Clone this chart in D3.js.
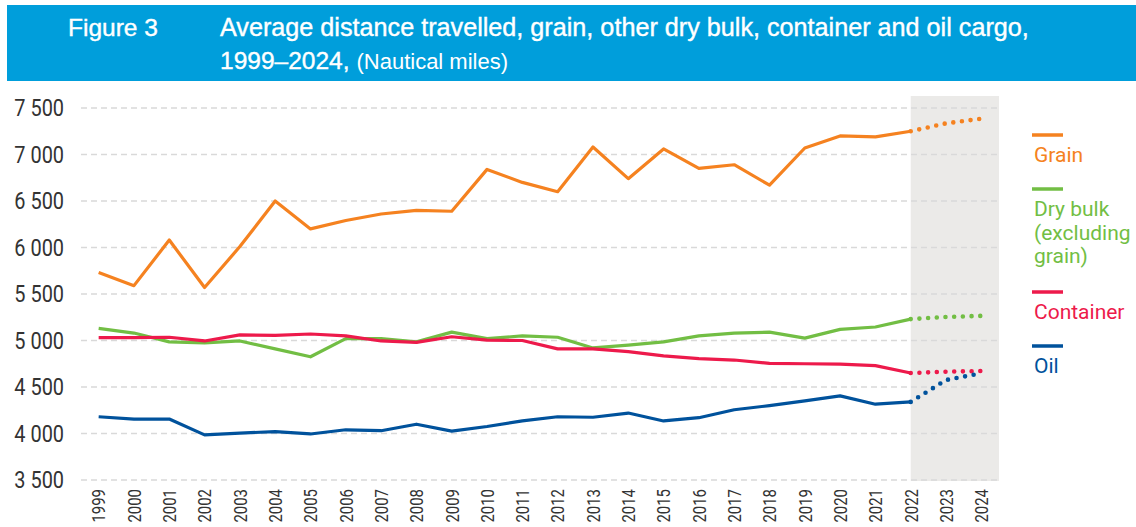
<!DOCTYPE html>
<html>
<head>
<meta charset="utf-8">
<script src="https://cdn.jsdelivr.net/npm/d3@7"></script>
<style>
  html, body { margin: 0; padding: 0; background: #fff; }
  svg { display: block; }
</style>
</head>
<body>
<svg id="chart" width="1136" height="527"></svg>
<script>
'use strict';

var years = ['1999','2000','2001','2002','2003','2004','2005','2006','2007','2008','2009','2010','2011',
             '2012','2013','2014','2015','2016','2017','2018','2019','2020','2021','2022','2023','2024'];
var grain = [5730,5590,6080,5570,6010,6500,6200,6290,6360,6400,6390,6840,6700,
             6600,7080,6740,7060,6850,6890,6670,7070,7200,7190,7250,7335,7385];
var dryBulk = [5130,5080,4985,4975,4995,4910,4825,5020,5020,4985,5090,5020,5050,
               5035,4920,4950,4985,5050,5080,5090,5025,5120,5145,5230,5253,5265];
var container = [5030,5030,5035,4995,5060,5055,5070,5050,4995,4980,5040,5005,5000,
                 4910,4910,4880,4835,4805,4790,4755,4750,4745,4730,4650,4665,4672];
var oil = [4180,4155,4155,3985,4005,4020,3995,4040,4030,4100,4025,4075,4135,
           4180,4175,4220,4135,4170,4255,4300,4350,4405,4315,4340,4575,4648];
var yTicks = [3500,4000,4500,5000,5500,6000,6500,7000,7500];
var forecastFrom = '2022';

var series = [
  {name: 'Grain', values: grain, color: '#F58220', label: ['Grain'], ly: 135},
  {name: 'Dry bulk', values: dryBulk, color: '#72BE44', label: ['Dry bulk', '(excluding', 'grain)'], ly: 189},
  {name: 'Container', values: container, color: '#ED1A4B', label: ['Container'], ly: 292},
  {name: 'Oil', values: oil, color: '#00529C', label: ['Oil'], ly: 346}
];

var svg = d3.select('#chart');

// header band
svg.append('rect')
  .attr('x', 7).attr('y', 5)
  .attr('width', 1129).attr('height', 76)
  .attr('fill', '#009EDB');

var headFont = '"Liberation Sans", Arial, sans-serif';
var head = svg.append('g')
  .attr('fill', '#fff')
  .attr('font-family', headFont);
head.append('text')
  .attr('x', 68).attr('y', 36)
  .attr('font-size', 24.5)
  .attr('stroke', '#fff').attr('stroke-width', 0.4)
  .text('Figure 3');
head.append('text')
  .attr('x', 220).attr('y', 36)
  .attr('font-size', 25.2)
  .attr('stroke', '#fff').attr('stroke-width', 0.4)
  .text('Average distance travelled, grain, other dry bulk, container and oil cargo,');
var title2 = head.append('text')
  .attr('x', 220).attr('y', 69)
  .attr('font-size', 24.5);
title2.append('tspan')
  .attr('stroke', '#fff').attr('stroke-width', 0.4)
  .text('1999\u20132024,');
title2.append('tspan').attr('font-size', 22).attr('dx', 7).text('(Nautical miles)');

var left = 81, right = 999, plotTop = 96, bottom = 480;

var x = d3.scalePoint()
  .domain(years)
  .range([left, right])
  .padding(0.5);
var y = d3.scaleLinear()
  .domain([3500, 7500])
  .range([bottom, 108]);

// shaded forecast area
svg.append('rect')
  .attr('x', x(forecastFrom))
  .attr('y', plotTop)
  .attr('width', right - x(forecastFrom))
  .attr('height', bottom - plotTop + 1)
  .attr('fill', '#EBEAE8');

// grid
svg.append('g')
  .selectAll('line')
  .data(yTicks)
  .join('line')
  .attr('x1', left).attr('x2', right)
  .attr('y1', function(d) { return y(d); })
  .attr('y2', function(d) { return y(d); })
  .attr('stroke', '#D9D9D9')
  .attr('stroke-width', 1.5)
  .attr('stroke-dasharray', '6,4');

var yAxis = svg.append('g')
  .attr('transform', 'translate(' + left + ',0)')
  .call(d3.axisLeft(y).tickValues(yTicks).tickSize(0).tickPadding(0)
    .tickFormat(function(d) { return d3.format(',')(d).replace(',', ' '); }));
yAxis.select('.domain').remove();
yAxis.selectAll('text')
  .attr('font-family', 'Roboto, sans-serif')
  .attr('font-size', 24)
  .attr('fill', '#333')
  .attr('x', -17 / 0.83)
  .attr('transform', 'scale(0.83,1)');

var xAxis = svg.append('g')
  .attr('transform', 'translate(0,' + bottom + ')')
  .call(d3.axisBottom(x).tickSize(0).tickPadding(0));
xAxis.select('.domain').remove();
xAxis.selectAll('text')
  .attr('font-family', 'Roboto, sans-serif')
  .attr('font-size', 18)
  .attr('fill', '#333')
  .attr('text-anchor', 'end')
  .attr('dy', '0.35em')
  .attr('y', 0)
  .attr('x', -9 / 0.83)
  .attr('transform', 'rotate(-90) scale(0.83,1)');

var line = d3.line()
  .x(function(d) { return x(d.year); })
  .y(function(d) { return y(d.value); });

var cut = years.indexOf(forecastFrom);
series.forEach(function(s) {
  var pts = years.map(function(yr, i) { return {year: yr, value: s.values[i]}; });
  svg.append('path')
    .datum(pts.slice(0, cut + 1))
    .attr('d', line)
    .attr('fill', 'none')
    .attr('stroke', s.color)
    .attr('stroke-width', 3.2)
    .attr('stroke-linejoin', 'round');
  svg.append('path')
    .datum(pts.slice(cut))
    .attr('d', line)
    .attr('fill', 'none')
    .attr('stroke', s.color)
    .attr('stroke-width', 4.6)
    .attr('stroke-linecap', 'round')
    .attr('stroke-dasharray', '0,8.7');
});

// legend
var legend = svg.append('g');
series.forEach(function(s) {
  legend.append('line')
    .attr('x1', 1032).attr('x2', 1063)
    .attr('y1', s.ly).attr('y2', s.ly)
    .attr('stroke', s.color)
    .attr('stroke-width', 3.5);
  var t = legend.append('text')
    .attr('x', 1034).attr('y', s.ly + 27)
    .attr('font-family', 'Roboto, sans-serif')
    .attr('font-size', 21)
    .attr('fill', s.color);
  s.label.forEach(function(l, i) {
    t.append('tspan')
      .attr('x', 1034)
      .attr('dy', i === 0 ? 0 : 23.5)
      .text(l);
  });
});
</script>
</body>
</html>
